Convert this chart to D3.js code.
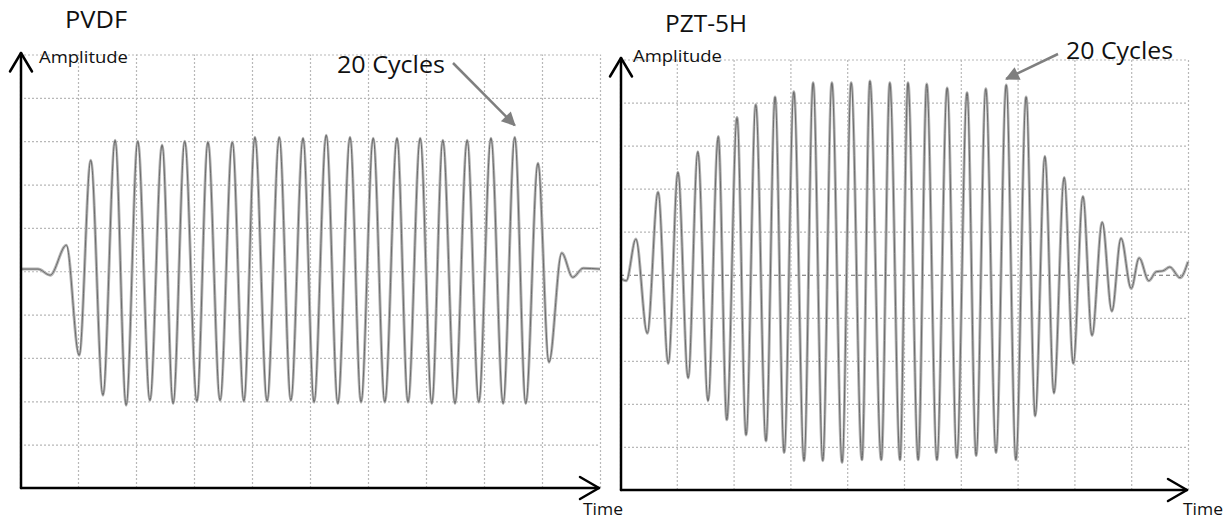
<!DOCTYPE html>
<html>
<head>
<meta charset="utf-8">
<script src="https://cdn.jsdelivr.net/npm/d3@7/dist/d3.min.js"></script>
<style>
  html, body { margin: 0; padding: 0; background: #fff; }
  svg { display: block; }
  text { font-family: "Open Sans", "Noto Sans", sans-serif; fill: #111; }
</style>
</head>
<body>
<svg id="chart" width="1229" height="519"></svg>
<script>
// Oscilloscope captures of a 20-cycle tone burst, time and amplitude in screen divisions.
// Extrema (peaks, troughs and the small ringing before/after the burst) of each trace.

// PVDF transducer
const pvdfTime = [0.03, 0.31, 0.52, 0.80, 1.02, 1.22, 1.43, 1.64, 1.83, 2.03, 2.24, 2.45, 2.64, 2.84,
  3.05, 3.24, 3.45, 3.66, 3.86, 4.05, 4.26, 4.47, 4.67, 4.88, 5.07, 5.28, 5.48, 5.69, 5.88, 6.09,
  6.29, 6.50, 6.69, 6.90, 7.10, 7.29, 7.50, 7.71, 7.91, 8.12, 8.33, 8.53, 8.72, 8.93, 9.12, 9.34,
  9.53, 9.71, 10.0];
const pvdfAmp = [0.05, 0.05, -0.09, 0.60, -1.94, 2.56, -2.86, 3.02, -3.09, 3.00, -2.98, 2.91, -3.05, 3.00,
  -3.00, 2.98, -2.98, 2.98, -3.00, 3.09, -3.00, 3.09, -2.98, 3.07, -3.02, 3.14, -3.05, 3.09, -3.02, 3.07,
  -3.02, 3.07, -3.02, 3.07, -3.05, 3.02, -3.05, 3.02, -3.02, 3.07, -3.05, 3.09, -3.05, 2.49, -2.10, 0.42,
  -0.14, 0.07, 0.05];

// PZT-5H transducer
const pztTime = [0.02, 0.11, 0.28, 0.48, 0.67, 0.85, 1.02, 1.20, 1.37, 1.55, 1.73, 1.88, 2.06, 2.22,
  2.39, 2.57, 2.73, 2.89, 3.06, 3.24, 3.40, 3.57, 3.73, 3.91, 4.07, 4.26, 4.40, 4.60, 4.75, 4.93,
  5.07, 5.25, 5.40, 5.58, 5.76, 5.93, 6.11, 6.27, 6.44, 6.62, 6.80, 6.97, 7.15, 7.31, 7.48, 7.64,
  7.82, 7.98, 8.15, 8.31, 8.49, 8.66, 8.82, 9.00, 9.14, 9.31, 9.44, 9.56, 9.68, 9.86, 10.0];
const pztAmp = [-0.09, -0.14, 0.83, -1.36, 1.92, -2.06, 2.38, -2.40, 2.86, -2.93, 3.21, -3.37, 3.65, -3.72,
  3.95, -3.86, 4.13, -4.13, 4.25, -4.32, 4.46, -4.32, 4.46, -4.36, 4.46, -4.30, 4.50, -4.30, 4.46, -4.30,
  4.46, -4.30, 4.43, -4.30, 4.34, -4.25, 4.23, -4.20, 4.32, -4.13, 4.41, -4.30, 4.13, -3.28, 2.75, -2.75,
  2.26, -2.06, 1.82, -1.41, 1.22, -0.85, 0.85, -0.32, 0.39, -0.14, 0.07, 0.09, 0.18, -0.07, 0.30];

// Screen grid: 10 x 10 divisions
const divTicks = [0, 1, 2, 3, 4, 5, 6, 7, 8, 9, 10];
const ampTicks = [-5, -4, -3, -2, -1, 0, 1, 2, 3, 4, 5];

// Labels
const titles = ["PVDF", "PZT-5H"];
const yLabel = "Amplitude";
const xLabel = "Time";
const noteText = "20 Cycles";
// index of the extremum the note points at (20th positive peak of each burst)
const notePeak = [41, 40];

const svg = d3.select("#chart");

const panels = [
  { title: titles[0], time: pvdfTime, amp: pvdfAmp, note: notePeak[0],
    box: { left: 20, right: 600, top: 54.5, bottom: 488 },
    titlePos: [65, 28, 62], yLab: [39, 63], xLab: [583, 515],
    notePos: [337, 73, 108], noteFrom: [453, 63], noteGap: [0, -12], darkZero: false },
  { title: titles[1], time: pztTime, amp: pztAmp, note: notePeak[1],
    box: { left: 620, right: 1188, top: 59.5, bottom: 490 },
    titlePos: [665, 32, 82], yLab: [633, 62], xLab: [1183, 515],
    notePos: [1066, 59, 107], noteFrom: [1058, 54], noteGap: [0, -6], darkZero: true }
];

// arrowhead for the annotation pointers
svg.append("defs").append("marker")
  .attr("id", "noteHead")
  .attr("viewBox", "0 0 10 10")
  .attr("refX", 9).attr("refY", 5)
  .attr("markerUnits", "userSpaceOnUse")
  .attr("markerWidth", 17).attr("markerHeight", 14)
  .attr("orient", "auto")
  .append("path").attr("d", "M0,0 L10,5 L0,10 Z").attr("fill", "#7f7f7f");

panels.forEach(p => {
  const b = p.box;
  const x = d3.scaleLinear().domain([0, 10]).range([b.left, b.right]);
  const y = d3.scaleLinear().domain([-5, 5]).range([b.bottom, b.top]);
  const g = svg.append("g");

  // dotted graticule
  const gx = g.append("g")
    .attr("transform", `translate(0,${b.bottom})`)
    .call(d3.axisBottom(x).tickValues(divTicks).tickSize(-(b.bottom - b.top)).tickFormat(""));
  const gy = g.append("g")
    .attr("transform", `translate(${b.left},0)`)
    .call(d3.axisLeft(y).tickValues(ampTicks).tickSize(-(b.right - b.left)).tickFormat(""));
  [gx, gy].forEach(a => {
    a.select(".domain").remove();
    a.selectAll(".tick line")
      .attr("stroke", "#b8b8b8")
      .attr("stroke-width", 1.2)
      .attr("stroke-dasharray", "2,2");
  });
  if (p.darkZero) {
    gy.selectAll(".tick").filter(d => d === 0).select("line")
      .attr("stroke", "#6a6a6a").attr("stroke-dasharray", "4,3");
  }

  // trace
  const pts = p.time.map((t, i) => ({ t, a: p.amp[i] }));
  const line = d3.line().x(d => x(d.t)).y(d => y(d.a)).curve(d3.curveMonotoneX);
  g.append("path").datum(pts).attr("d", line)
    .attr("fill", "none").attr("stroke", "#b4b4b4").attr("stroke-width", 3)
    .attr("stroke-linejoin", "round");
  g.append("path").datum(pts).attr("d", line)
    .attr("fill", "none").attr("stroke", "#6c6c6c").attr("stroke-width", 1)
    .attr("stroke-linejoin", "round");

  // axes with open arrowheads
  const ax = x(0) + 1, ay = y(-5);
  const axis = g.append("g").attr("fill", "none").attr("stroke", "#000")
    .attr("stroke-width", 2.5).attr("stroke-linecap", "round").attr("stroke-linejoin", "round");
  axis.append("line").attr("x1", ax).attr("y1", ay).attr("x2", ax).attr("y2", y(5) - 1.5);
  axis.append("polyline").attr("points",
    `${ax - 11},${y(5) + 17} ${ax},${y(5) - 1.5} ${ax + 11},${y(5) + 17}`);
  axis.append("line").attr("x1", ax).attr("y1", ay).attr("x2", x(10) - 1).attr("y2", ay);
  axis.append("polyline").attr("points",
    `${x(10) - 20},${ay - 11} ${x(10) - 1},${ay} ${x(10) - 20},${ay + 11}`);

  // texts
  g.append("text").attr("x", p.titlePos[0]).attr("y", p.titlePos[1])
    .attr("font-size", 23).attr("textLength", p.titlePos[2]).attr("lengthAdjust", "spacingAndGlyphs")
    .text(p.title);
  g.append("text").attr("x", p.yLab[0]).attr("y", p.yLab[1])
    .attr("font-size", 16).attr("textLength", 89).attr("lengthAdjust", "spacingAndGlyphs")
    .text(yLabel);
  g.append("text").attr("x", p.xLab[0]).attr("y", p.xLab[1])
    .attr("font-size", 17).attr("textLength", 40).attr("lengthAdjust", "spacingAndGlyphs")
    .text(xLabel);
  g.append("text").attr("x", p.notePos[0]).attr("y", p.notePos[1])
    .attr("font-size", 23).attr("textLength", p.notePos[2]).attr("lengthAdjust", "spacingAndGlyphs")
    .text(noteText);

  // pointer to the 20th cycle
  const tx = x(p.time[p.note]) + p.noteGap[0];
  const ty = y(p.amp[p.note]) + p.noteGap[1];
  g.append("line")
    .attr("x1", p.noteFrom[0]).attr("y1", p.noteFrom[1])
    .attr("x2", tx).attr("y2", ty)
    .attr("stroke", "#7f7f7f").attr("stroke-width", 2.5)
    .attr("marker-end", "url(#noteHead)");
});
</script>
</body>
</html>
